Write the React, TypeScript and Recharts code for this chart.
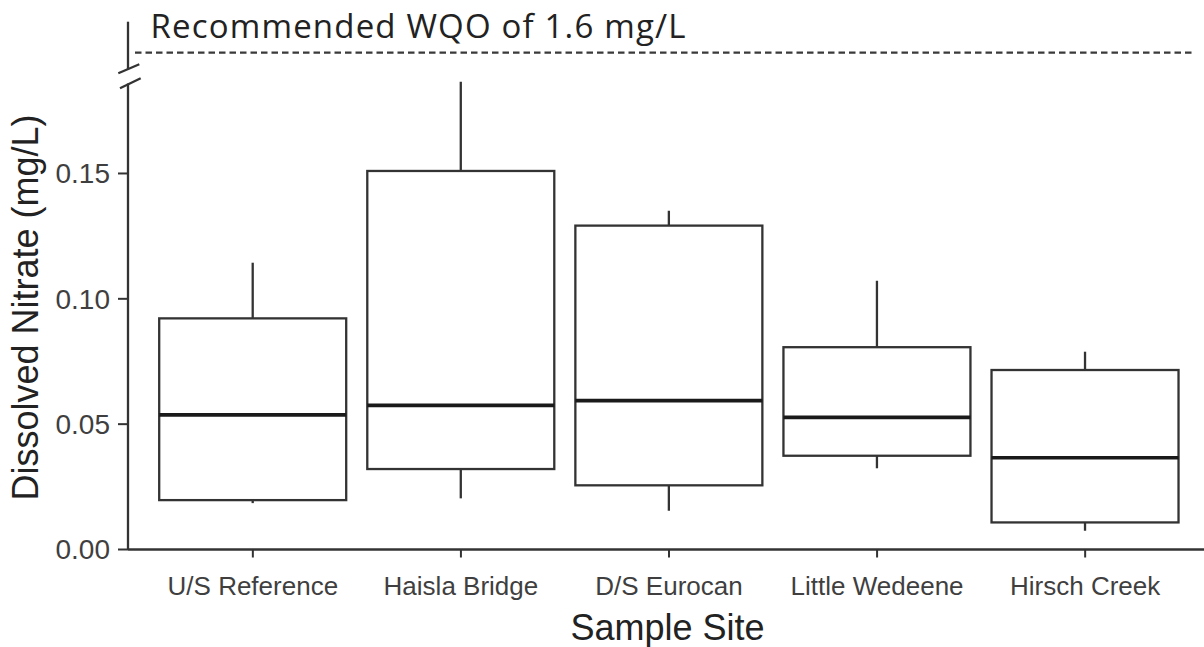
import React from 'react';
import { ComposedChart, Bar, XAxis, YAxis } from 'recharts';

// ---- data ----
const sites = ['U/S Reference', 'Haisla Bridge', 'D/S Eurocan', 'Little Wedeene', 'Hirsch Creek'];
const minVals = [0.0185, 0.0204, 0.0155, 0.0324, 0.0075];
const q1Vals = [0.0197, 0.0321, 0.0256, 0.0374, 0.0108];
const medianVals = [0.0537, 0.0575, 0.0594, 0.0527, 0.0366];
const q3Vals = [0.0922, 0.151, 0.1292, 0.0807, 0.0716];
const maxVals = [0.1144, 0.1866, 0.1351, 0.1072, 0.0789];
const yTicks = [0, 0.05, 0.1, 0.15];
const yDomain = [0, 0.19];
const wqoLabel = 'Recommended WQO of 1.6 mg/L';
const xTitle = 'Sample Site';
const yTitle = 'Dissolved Nitrate (mg/L)';

const data = sites.map((site, i) => ({
  site,
  min: minVals[i],
  q1: q1Vals[i],
  median: medianVals[i],
  q3: q3Vals[i],
  max: maxVals[i],
}));

// ---- layout ----
const CHART_W = 1215;
const CHART_H = 647;
const Y_AXIS_W = 128;
const MARGIN = { top: 73.2, right: 5, left: 0, bottom: 67.5 };
const X_AXIS_H = 30;
const PLOT_LEFT = Y_AXIS_W;
const BOX_STROKE = '#333333';
const TEXT_DARK = '#222222';
const TICK_TEXT = '#3f3f3f';

const BoxShape = (props: any) => {
  const { x, y, width, height, payload } = props;
  if (!payload) return null;
  const { min, q1, median, q3, max } = payload;
  const ppu = height / (q3 - q1);
  const cx = x + width / 2;
  const yMed = y + (q3 - median) * ppu;
  const yMax = y - (max - q3) * ppu;
  const yMin = y + height + (q1 - min) * ppu;
  return (
    <g>
      <line x1={cx} x2={cx} y1={yMax} y2={y} stroke={BOX_STROKE} strokeWidth={2.3} />
      <line x1={cx} x2={cx} y1={y + height} y2={yMin} stroke={BOX_STROKE} strokeWidth={2.3} />
      <rect x={x} y={y} width={width} height={height} fill="#ffffff" stroke={BOX_STROKE} strokeWidth={2.3} />
      <line x1={x} x2={x + width} y1={yMed} y2={yMed} stroke="#1a1a1a" strokeWidth={3.6} />
    </g>
  );
};

export default function App() {
  return (
    <div
      style={{
        position: 'absolute',
        left: 0,
        top: 0,
        width: 1204,
        height: 647,
        overflow: 'hidden',
        background: '#ffffff',
      }}
    >
      <ComposedChart
        width={CHART_W}
        height={CHART_H}
        data={data}
        margin={MARGIN}
        barCategoryGap="5%"
      >
        <XAxis
          dataKey="site"
          type="category"
          height={X_AXIS_H}
          padding={{ left: 20.8, right: 20.8 }}
          axisLine={{ stroke: BOX_STROKE, strokeWidth: 2.3 }}
          tickLine={{ stroke: BOX_STROKE, strokeWidth: 2 }}
          tickSize={8}
          tickMargin={19}
          interval={0}
          tick={{ fill: TICK_TEXT, fontSize: 26, fontFamily: 'Liberation Sans, Arial, sans-serif' }}
        />
        <YAxis
          type="number"
          domain={yDomain}
          ticks={yTicks}
          width={Y_AXIS_W}
          allowDataOverflow
          axisLine={{ stroke: BOX_STROKE, strokeWidth: 2.3 }}
          tickLine={{ stroke: BOX_STROKE, strokeWidth: 2 }}
          tickSize={10}
          tickMargin={8}
          tickFormatter={(v: number) => v.toFixed(2)}
          tick={{ fill: TICK_TEXT, fontSize: 28, fontFamily: 'Liberation Sans, Arial, sans-serif' }}
        />
        <Bar
          dataKey={(d: any) => [d.q1, d.q3]}
          shape={BoxShape}
          isAnimationActive={false}
        />
      </ComposedChart>
      <svg
        width={1204}
        height={647}
        style={{ position: 'absolute', left: 0, top: 0, pointerEvents: 'none' }}
      >
        {/* broken axis */}
        <rect x={PLOT_LEFT - 4} y={70} width={8} height={13.5} fill="#ffffff" />
        <line x1={PLOT_LEFT} x2={PLOT_LEFT} y1={21.7} y2={69} stroke={BOX_STROKE} strokeWidth={2.3} />
        <line x1={118.3} y1={73.3} x2={139.3} y2={64.3} stroke={BOX_STROKE} strokeWidth={2.3} />
        <line x1={120} y1={88.3} x2={140.7} y2={78.3} stroke={BOX_STROKE} strokeWidth={2.3} />
        {/* WQO reference */}
        <line x1={135} x2={1193} y1={52.7} y2={52.7} stroke="#3a3a3a" strokeWidth={2.3} strokeDasharray="6.5 4" />
        <text
          x={150.5}
          y={37.5}
          fontSize={33}
          fill={TEXT_DARK}
          fontFamily="Open Sans, Inter, sans-serif"
          textLength={535}
          lengthAdjust="spacing"
        >
          {wqoLabel}
        </text>
        {/* axis titles */}
        <text
          x={667.5}
          y={640}
          fontSize={36}
          fill={TEXT_DARK}
          textAnchor="middle"
          fontFamily="Liberation Sans, Arial, sans-serif"
        >
          {xTitle}
        </text>
        <text
          x={38}
          y={307.5}
          fontSize={36}
          fill={TEXT_DARK}
          textAnchor="middle"
          transform="rotate(-90 38 307.5)"
          fontFamily="Liberation Sans, Arial, sans-serif"
        >
          {yTitle}
        </text>
      </svg>
    </div>
  );
}
